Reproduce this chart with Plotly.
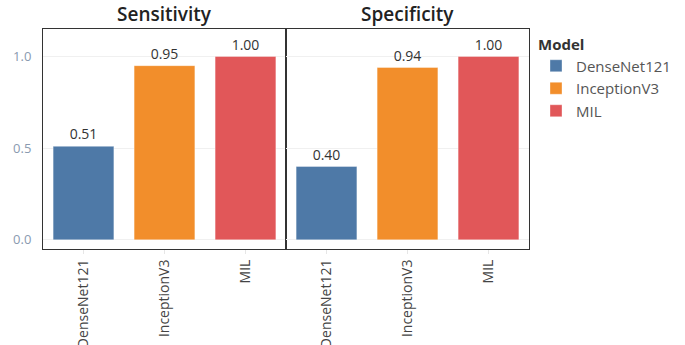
import plotly.graph_objects as go
from plotly.subplots import make_subplots

metrics = ["Sensitivity", "Specificity"]
models = ["DenseNet121", "InceptionV3", "MIL"]
sensitivity = [0.51, 0.95, 1.00]
specificity = [0.40, 0.94, 1.00]
colors = ["#4e79a7", "#f28e2b", "#e15759"]
y_ticks = [0.0, 0.5, 1.0]

W, H = 685, 345

fig = make_subplots(rows=1, cols=2, shared_yaxes=True, horizontal_spacing=0,
                    subplot_titles=metrics)

for col, vals in enumerate([sensitivity, specificity], start=1):
    for m, v, c in zip(models, vals, colors):
        fig.add_trace(go.Bar(
            x=[m], y=[v], name=m,
            marker=dict(color=c, line=dict(width=1, color="rgba(255,255,255,0.35)")),
            text=[f"{v:.2f}"], textposition="outside", cliponaxis=False,
            textfont=dict(size=14, color="#333333"),
            showlegend=(col == 1), legendgroup=m,
        ), row=1, col=col)

x1 = [43 / W, 286 / W]
x2 = [286 / W, 529 / W]
yd = [1 - 249 / H, 1 - 29 / H]

fig.update_xaxes(showline=True, linecolor="#333333", linewidth=1, mirror=True,
                 tickangle=-90, tickfont=dict(size=14, color="#444444"),
                 ticks="outside", ticklen=4, tickcolor="#e6e6e6",
                 automargin=False, categoryorder="array", categoryarray=models)
fig.update_yaxes(range=[-0.05, 1.15], tickvals=y_ticks,
                 ticktext=[f"{t:.1f}" for t in y_ticks], showgrid=True,
                 gridcolor="#f0f0f0", zeroline=False, showline=True,
                 linecolor="#333333", mirror=True, automargin=False,
                 tickfont=dict(size=13, color="#8a9ab0"), ticklabelstandoff=8)
fig.update_layout(
    xaxis=dict(domain=x1),
    xaxis2=dict(domain=x2),
    yaxis=dict(domain=yd),
    yaxis2=dict(domain=yd),
    bargap=0.25,
    width=W, height=H,
    margin=dict(l=0, r=0, t=0, b=0),
    paper_bgcolor="white", plot_bgcolor="white",
    font=dict(family="Open Sans, sans-serif", color="#333333"),
    legend=dict(x=536 / W, y=1 - 30 / H, xanchor="left", yanchor="top",
                title=dict(text="<b>Model</b>", font=dict(size=15, color="#333333")),
                font=dict(size=15, color="#555555"), tracegroupgap=0,
                itemwidth=30),
)

for ann, dom in zip(fig.layout.annotations, [x1, x2]):
    ann.font = dict(size=19, color="#222222", weight=600)
    ann.x = (dom[0] + dom[1]) / 2
    ann.xanchor = "center"
    ann.y = yd[1]
    ann.yanchor = "bottom"
    ann.yshift = 0

fig.write_html("out.html")
